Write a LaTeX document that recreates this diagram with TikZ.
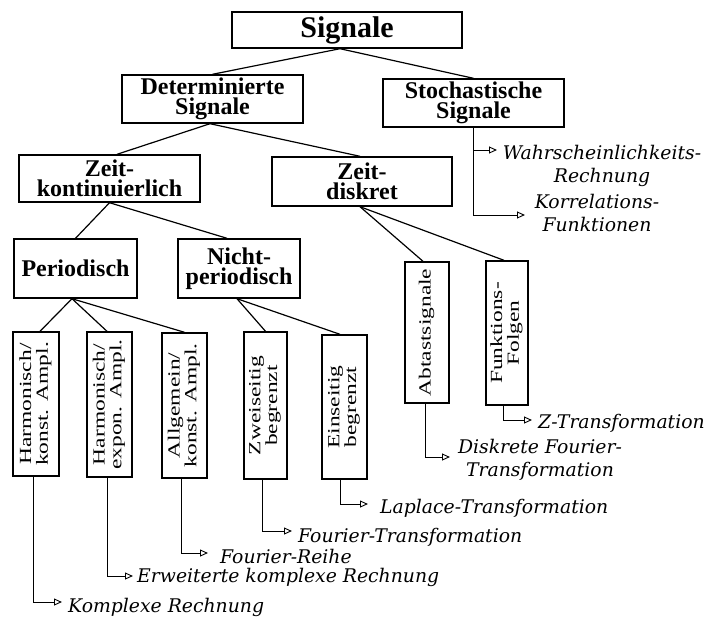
\documentclass[tikz,border=0pt]{standalone}
\usepackage{fontspec}
\setmainfont{Liberation Serif}
\newfontfamily\labfont{DejaVu Serif}
\usepackage{graphicx}
\usetikzlibrary{arrows.meta}
\newcommand{\rottext}[1]{\rotatebox{90}{\scalebox{1.38}[1]{\fontsize{17}{16}\selectfont\begin{tabular}{@{}c@{}}#1\end{tabular}}}}
\tikzset{
  box/.style={draw, line width=1.4pt, inner sep=0pt, align=center,
    font=\fontsize{24}{20.5}\selectfont\bfseries},
  vbox/.style={draw, line width=1.4pt, inner sep=0pt},
  tree/.style={line width=1.2pt},
  arr/.style={line width=0.8pt, -{Triangle[open, length=8pt, width=7pt, line width=0.9pt]}},
  lab/.style={inner sep=0pt, anchor=base west,
    font=\fontsize{18.8}{23}\selectfont\labfont\itshape},
  labtwo/.style={inner sep=0pt, anchor=base, align=center,
    font=\fontsize{18.8}{23}\selectfont\labfont\itshape},
}
\begin{document}
\begin{tikzpicture}[x=1pt,y=-1pt]
\fill[white] (0,0) rectangle (717,625);
\useasboundingbox (0,0) rectangle (717,625);

% main boxes
\node[box, minimum width=230pt, minimum height=36pt, font=\fontsize{30}{30}\selectfont\bfseries] (sig) at (347,30) {Signale};
\node[box, minimum width=181pt, minimum height=48pt] (det) at (212.5,99) {Determinierte\\Signale};
\node[box, minimum width=181pt, minimum height=48pt] (sto) at (473.5,103) {Stochastische\\Signale};
\node[box, minimum width=181pt, minimum height=47pt] (zk) at (109.5,178.5) {Zeit-\\kontinuierlich};
\node[box, minimum width=180pt, minimum height=49pt] (zd) at (362,181.5) {Zeit-\\diskret};
\node[box, minimum width=123pt, minimum height=59pt] (per) at (75.5,268.5) {Periodisch};
\node[box, minimum width=122pt, minimum height=59pt] (np) at (239,268.5) {Nicht-\\periodisch};

% vertical boxes
\node[vbox, minimum width=46pt, minimum height=144pt] (hk) at (36,404) {\rottext{Harmonisch/\\konst. Ampl.}};
\node[vbox, minimum width=45pt, minimum height=145pt] (he) at (109.5,404.5) {\rottext{Harmonisch/\\expon. Ampl.}};
\node[vbox, minimum width=45pt, minimum height=145pt] (ak) at (184.5,405.5) {\rottext{Allgemein/\\konst. Ampl.}};
\node[vbox, minimum width=43pt, minimum height=147pt] (zw) at (265.5,405.5) {\rottext{Zweiseitig\\begrenzt}};
\node[vbox, minimum width=45pt, minimum height=144pt] (es) at (344.5,407) {\rottext{Einseitig\\begrenzt}};
\node[vbox, minimum width=44pt, minimum height=141pt] (ab) at (427,332.5) {\rottext{Abtastsignale}};
\node[vbox, minimum width=42pt, minimum height=144pt] (fk) at (507,333) {\rottext{Funktions-\\Folgen}};

% tree connectors
\draw[tree] ([xshift=-7pt]sig.south) -- (det.north);
\draw[tree] ([xshift=-7pt]sig.south) -- (sto.north);
\draw[tree] ([xshift=-2.5pt]det.south) -- ([xshift=7.5pt]zk.north);
\draw[tree] ([xshift=-2.5pt]det.south) -- ([xshift=-2pt]zd.north);
\draw[tree] (zk.south) -- (per.north);
\draw[tree] (zk.south) -- ([xshift=-12pt]np.north);
\draw[tree] ([xshift=-2pt]zd.south) -- ([xshift=-4pt]ab.north);
\draw[tree] ([xshift=-2pt]zd.south) -- ([xshift=-3pt]fk.north);
\draw[tree] ([xshift=-3.5pt]per.south) -- ([xshift=4pt]hk.north);
\draw[tree] ([xshift=-3.5pt]per.south) -- ([xshift=-2.5pt]he.north);
\draw[tree] ([xshift=-3.5pt]per.south) -- (ak.north);
\draw[tree] ([xshift=-2pt]np.south) -- (zw.north);
\draw[tree] ([xshift=-2pt]np.south) -- ([xshift=-4.5pt]es.north);

% labels and arrows
\coordinate (t1) at (62,602);
\node[lab] (l1) at (68,612) {Komplexe Rechnung};
\draw[arr] ([xshift=-3pt]hk.south) |- (t1);

\coordinate (t2) at (133,576);
\node[lab] (l2) at (137,582) {Erweiterte komplexe Rechnung};
\draw[arr] ([xshift=-2.5pt]he.south) |- (t2);

\coordinate (t3) at (208,553);
\node[lab] (l3) at (220,563) {Fourier-Reihe};
\draw[arr] ([xshift=-3.5pt]ak.south) |- (t3);

\coordinate (t4) at (292,531);
\node[lab] (l4) at (298,542) {Fourier-Transformation};
\draw[arr] ([xshift=-3.5pt]zw.south) |- (t4);

\coordinate (t5) at (368,504);
\node[lab] (l5) at (380,513) {Laplace-Transformation};
\draw[arr] ([xshift=-4.5pt]es.south) |- (t5);

\coordinate (t6) at (450,457);
\node[labtwo] (l6) at (540,476) {Diskrete Fourier-\\Transformation};
\draw[arr] ([xshift=-2pt]ab.south) |- (t6);

\coordinate (t7) at (532,420);
\node[lab] (l7) at (538,428) {Z-Transformation};
\draw[arr] ([xshift=-4pt]fk.south) |- (t7);

\coordinate (t8) at (497,150);
\node[labtwo] (l8) at (602,182) {Wahrscheinlichkeits-\\Rechnung};
\draw[arr] (sto.south) |- (t8);

\coordinate (t9) at (525,215);
\node[labtwo] (l9) at (597,231) {Korrelations-\\Funktionen};
\draw[arr] (sto.south) |- (t9);
\end{tikzpicture}
\end{document}
